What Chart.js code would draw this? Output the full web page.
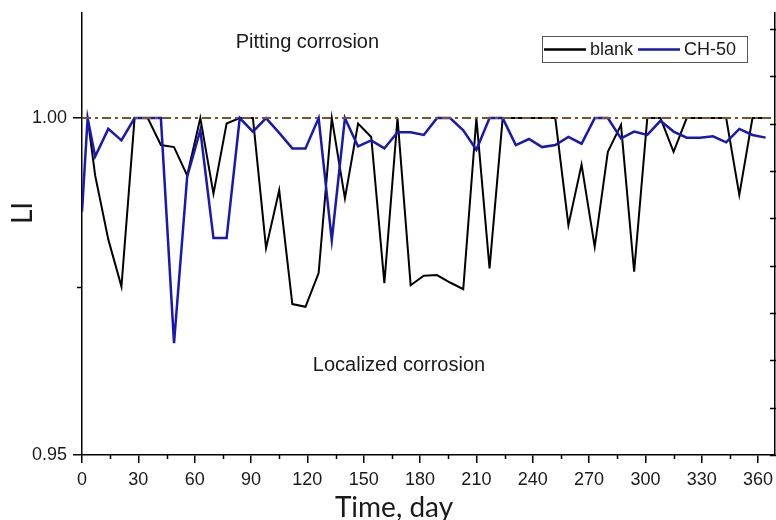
<!DOCTYPE html>
<html>
<head>
<meta charset="utf-8">
<title>LI vs time</title>
<script src="https://cdn.jsdelivr.net/npm/chart.js@4.4.1/dist/chart.umd.min.js"></script>
<style>
  html, body { margin: 0; padding: 0; background: #fff; }
  #wrap { width: 776px; height: 520px; }
</style>
</head>
<body>
<div id="wrap"><canvas id="liChart" width="776" height="520"></canvas></div>
<script>
'use strict';

//measurement days (day 3 then weekly)
const days = [0, 3, 7, 14, 21, 28, 35, 42, 49, 56, 63, 70, 77, 84, 91, 98, 105, 112,
  119, 126, 133, 140, 147, 154, 161, 168, 175, 182, 189, 196, 203, 210, 217, 224,
  231, 238, 245, 252, 259, 266, 273, 280, 287, 294, 301, 308, 315, 322, 329, 336,
  343, 350, 357, 364];

//localization index, blank specimen
const blankLI = [1.000, 1.000, 0.9915, 0.982, 0.975, 1.000, 1.000, 0.996, 0.9957, 0.9915,
  1.000, 0.9888, 0.9992, 1.000, 1.000, 0.9807, 0.9893, 0.9724, 0.9720, 0.977,
  1.000, 0.9881, 0.9992, 0.9972, 0.9755, 1.000, 0.9752, 0.9766, 0.9767, 0.9756,
  0.9746, 1.000, 0.9777, 1.000, 1.000, 1.000, 1.000, 1.000, 0.9841, 0.9931,
  0.9809, 0.995, 0.999, 0.9772, 1.000, 1.000, 0.995, 1.000, 1.000, 1.000,
  1.000, 0.9886, 1.000, 1.000];

//localization index, CH-50 specimen
const ch50LI = [0.9861, 1.000, 0.9943, 0.9984, 0.9967, 1.000, 1.000, 1.000, 0.9666, 0.9913,
  0.9982, 0.9822, 0.9822, 1.000, 0.998, 1.000, 0.9978, 0.9955, 0.9955, 1.000,
  0.9819, 1.000, 0.9958, 0.9967, 0.9955, 0.9979, 0.9979, 0.9975, 1.000, 1.000,
  0.9982, 0.9953, 1.000, 1.000, 0.996, 0.9969, 0.9957, 0.996, 0.9972, 0.9962,
  1.000, 1.000, 0.997, 0.998, 0.9975, 0.9996, 0.998, 0.9971, 0.9971, 0.9973,
  0.9964, 0.9984, 0.9975, 0.9971];

//threshold between pitting and localized corrosion
const thresholdLI = 1.00;

//axis ticks
const xMajorTicks = [0, 30, 60, 90, 120, 150, 180, 210, 240, 270, 300, 330, 360];
const xMinorTicks = [15, 45, 75, 105, 135, 165, 195, 225, 255, 285, 315, 345];
const yMajorTicks = [0.95, 1.00];
const yMinorTicks = [0.975];
const rightTicks = [0, 1, 2, 3, 4, 5, 6, 7, 8, 9];

//region labels, placed in data coordinates
const regionNotes = [
  {text: 'Pitting corrosion', day: 120, li: 1.0104},
  {text: 'Localized corrosion', day: 168.8, li: 0.9625}
];

function toPoints(xs, ys){
  return xs.map((d, i) => ({x: d, y: ys[i]}));
}

//fixed axis sizes so the plot area lands where we want it
function fixSize(prop, size){
  return function(s){
    s[prop] = size;
    s.paddingTop = 0;
    s.paddingBottom = 0;
    s.paddingLeft = 0;
    s.paddingRight = 0;
  };
}

const tickFont = {family: 'Liberation Sans, Arial, sans-serif', size: 18};
const textColor = '#1a1a1a';

//minor ticks, right axis ticks, region labels, axis titles and boxed legend
const extras = {
  id: 'extras',
  afterDraw(chart){
    const ctx = chart.ctx;
    const xs = chart.scales.x;
    const ys = chart.scales.y;
    const ys2 = chart.scales.y2;
    const area = chart.chartArea;
    ctx.save();

    ctx.strokeStyle = '#000';
    ctx.lineWidth = 1.5;
    ctx.beginPath();
    for(let v of xMinorTicks){
      let px = Math.round(xs.getPixelForValue(v)) + 0.5;
      ctx.moveTo(px, area.bottom);
      ctx.lineTo(px, area.bottom + 4);
    }
    for(let v of yMinorTicks){
      let py = Math.round(ys.getPixelForValue(v)) + 0.5;
      ctx.moveTo(area.left, py);
      ctx.lineTo(area.left - 5, py);
    }
    for(let v of rightTicks){
      let py = Math.round(ys2.getPixelForValue(v)) + 0.5;
      ctx.moveTo(area.right + 1, py);
      ctx.lineTo(area.right - 5, py);
    }
    ctx.stroke();

    ctx.fillStyle = textColor;
    ctx.font = '20px "Liberation Sans", Arial, sans-serif';
    ctx.textAlign = 'center';
    ctx.textBaseline = 'alphabetic';
    for(let note of regionNotes){
      ctx.fillText(note.text, xs.getPixelForValue(note.day), ys.getPixelForValue(note.li));
    }

    //axis titles
    ctx.font = '28px Lato, "Open Sans", sans-serif';
    ctx.fillText('Time, day', 394, 517);
    ctx.save();
    ctx.translate(32, 213);
    ctx.rotate(-Math.PI / 2);
    ctx.fillText('LI', 0, 0);
    ctx.restore();

    //legend box
    let boxR = area.right - 28;
    let boxT = area.top + 23;
    let boxL = boxR - 205;
    ctx.strokeStyle = '#555';
    ctx.lineWidth = 1;
    ctx.strokeRect(boxL + 0.5, boxT + 0.5, 205, 26);
    let mid = boxT + 13.5;
    ctx.font = '18px "Liberation Sans", Arial, sans-serif';
    ctx.textAlign = 'left';
    ctx.textBaseline = 'middle';
    let entries = [chart.data.datasets[2], chart.data.datasets[1]];
    let cx = boxL + 2;
    for(let ds of entries){
      ctx.strokeStyle = ds.borderColor;
      ctx.lineWidth = 2.5;
      ctx.beginPath();
      ctx.moveTo(cx, mid);
      ctx.lineTo(cx + 42, mid);
      ctx.stroke();
      ctx.fillText(ds.label, cx + 46, mid + 1);
      cx += 46 + ctx.measureText(ds.label).width + 5;
    }
    ctx.restore();
  }
};

const config = {
  type: 'line',
  data: {
    datasets: [
      {
        label: 'threshold',
        data: [{x: 0, y: thresholdLI}, {x: 369, y: thresholdLI}],
        borderColor: '#7d5427',
        borderWidth: 2,
        borderDash: [9, 4, 3, 4],
        pointRadius: 0,
        order: 0
      },
      {
        label: 'CH-50',
        data: toPoints(days, ch50LI),
        borderColor: '#1818b4',
        borderWidth: 2.5,
        pointRadius: 0,
        tension: 0,
        order: 1
      },
      {
        label: 'blank',
        data: toPoints(days, blankLI),
        borderColor: '#000000',
        borderWidth: 2,
        pointRadius: 0,
        tension: 0,
        order: 2
      }
    ]
  },
  options: {
    responsive: false,
    animation: false,
    events: [],
    layout: {padding: {top: 13, left: 0, right: 0, bottom: 0}},
    plugins: {legend: {display: false}, tooltip: {enabled: false}},
    scales: {
      x: {
        type: 'linear',
        position: 'bottom',
        min: 0,
        max: 369,
        afterBuildTicks: s => { s.ticks = xMajorTicks.map(v => ({value: v})); },
        afterFit: fixSize('height', 65),
        ticks: {font: tickFont, color: textColor, padding: 6, maxRotation: 0, autoSkip: false},
        grid: {drawOnChartArea: false, drawTicks: true, tickLength: 8, color: '#000', lineWidth: 1.5},
        border: {display: true, color: '#000', width: 1.5}
      },
      y: {
        type: 'linear',
        position: 'left',
        min: 0.95,
        max: 1.0156,
        afterBuildTicks: s => { s.ticks = yMajorTicks.map(v => ({value: v})); },
        afterFit: fixSize('width', 82),
        ticks: {font: tickFont, color: textColor, padding: 6, callback: v => v.toFixed(2)},
        grid: {drawOnChartArea: false, drawTicks: true, tickLength: 9, color: '#000', lineWidth: 1.5},
        border: {display: true, color: '#000', width: 1.5}
      },
      y2: {
        type: 'linear',
        position: 'right',
        min: 0,
        max: 9.34,
        afterBuildTicks: s => { s.ticks = rightTicks.map(v => ({value: v})); },
        afterFit: fixSize('width', 1),
        ticks: {display: false},
        grid: {display: false},
        border: {display: true, color: '#000', width: 1.5}
      }
    }
  },
  plugins: [extras]
};

new Chart(document.getElementById('liChart'), config);
</script>
</body>
</html>
